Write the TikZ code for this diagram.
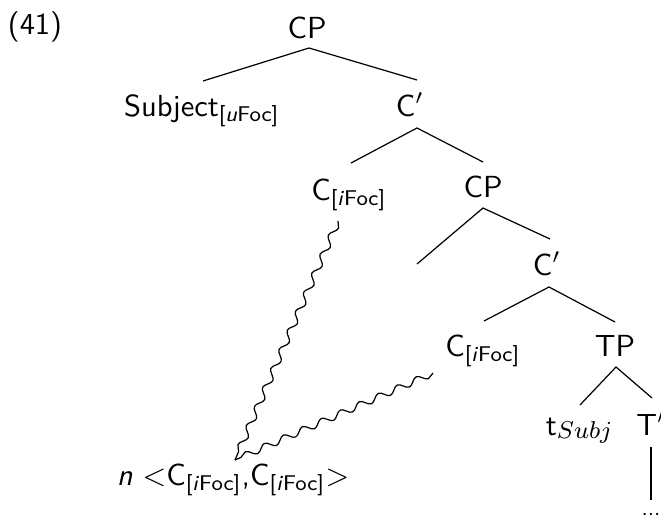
\documentclass[tikz,border=0pt]{standalone}
\usepackage{amsmath}
\usetikzlibrary{decorations.pathmorphing}
\begin{document}
\begin{tikzpicture}[x=0.328pt,y=-0.328pt,
  lbl/.style={inner sep=0pt,anchor=base,font=\sffamily},
  branch/.style={line width=0.4pt},
  wavy/.style={line width=0.4pt,decorate,decoration={snake,amplitude=1.1pt,segment length=6.8pt,pre length=0pt,post length=0pt}}]
\useasboundingbox (0,0) rectangle (661,515);
% labels
\node[lbl] (ex) at (35,35) {(41)};
\node[lbl] (cp1) at (307,38) {CP};
\node[lbl] (subj) at (202,116) {Subject$_{\text{[\textit{u}Foc]}}$};
\node[lbl] (cb1) at (410,116) {C$'$};
\node[lbl] (c1) at (349,200) {C$_{\text{[\textit{i}Foc]}}$};
\node[lbl] (cp2) at (483,197) {CP};
\node[lbl] (cb2) at (547,275) {C$'$};
\node[lbl] (c2) at (483,356) {C$_{\text{[\textit{i}Foc]}}$};
\node[lbl] (tp) at (615,356) {TP};
\node[lbl] (ts) at (579,435) {t\raisebox{-1.3pt}{\footnotesize$Subj$}};
\node[lbl] (tb) at (651,435) {T$'$};
\node[lbl] (n) at (233,485) {\textit{n} $<$C$_{\text{[\textit{i}Foc]}}$,C$_{\text{[\textit{i}Foc]}}$$>$};
\node[lbl,font=\sffamily\scriptsize] (dots) at (651,515) {...};
% connector end points
\coordinate (cp1b) at (309,48);
\coordinate (subjt) at (203,81);
\coordinate (cb1t) at (417,80);
\coordinate (cb1b) at (417,128);
\coordinate (c1t) at (351,163);
\coordinate (cp2t) at (483,162);
\coordinate (cp2b) at (483,208);
\coordinate (spec2) at (417,264);
\coordinate (cb2t) at (550,239);
\coordinate (cb2b) at (549,287);
\coordinate (c2t) at (484,321);
\coordinate (tpt) at (615,322);
\coordinate (tpb) at (616,367);
\coordinate (tst) at (580,405);
\coordinate (tbt) at (652,398);
\coordinate (tbb) at (651,447);
\coordinate (dotst) at (651,500);
\coordinate (c1b) at (338,221);
\coordinate (c2b) at (433,373);
\coordinate (nt) at (235,460);
% branches
\draw[branch] (subjt) -- (cp1b) -- (cb1t);
\draw[branch] (c1t) -- (cb1b) -- (cp2t);
\draw[branch] (spec2) -- (cp2b) -- (cb2t);
\draw[branch] (c2t) -- (cb2b) -- (tpt);
\draw[branch] (tst) -- (tpb) -- (tbt);
\draw[branch] (tbb) -- (dotst);
% wavy links
\draw[wavy] (c1b) -- (nt);
\draw[wavy] (c2b) -- (nt);
\end{tikzpicture}
\end{document}
